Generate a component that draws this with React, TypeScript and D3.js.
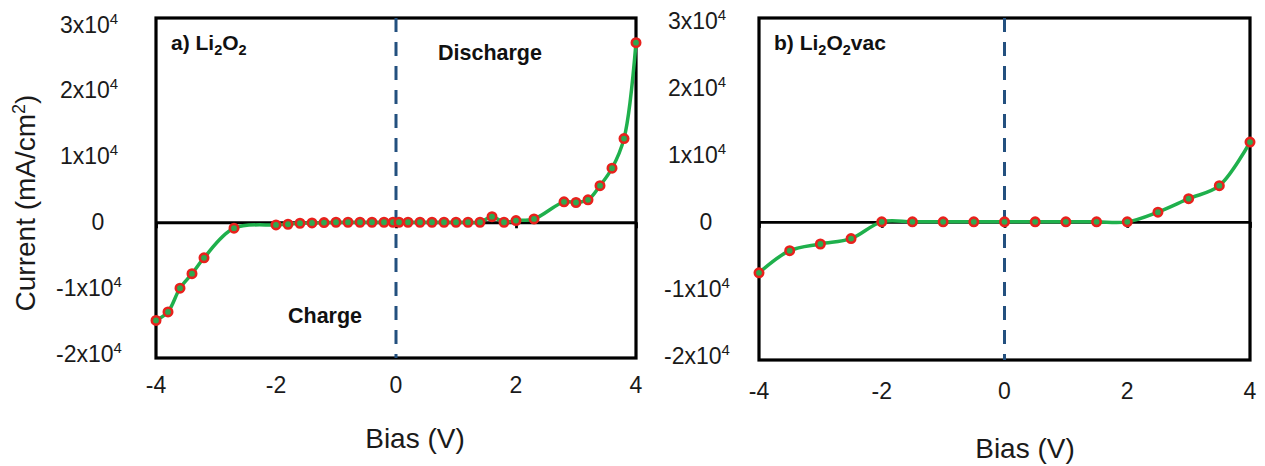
import React, { useEffect, useRef } from "react";
import * as d3 from "d3";

// panel a) Li2O2, bias (V) vs current (mA/cm2)
const biasA = [
  -4, -3.8, -3.6, -3.4, -3.2, -2.7, -2, -1.8, -1.6, -1.4, -1.2, -1, -0.8, -0.6, -0.4, -0.2,
  -0.05, 0.05, 0.2, 0.4, 0.6, 0.8, 1, 1.2, 1.4, 1.6, 1.8, 2, 2.3, 2.8, 3, 3.2, 3.4, 3.6, 3.8, 4,
];
const currentA = [
  -14900, -13600, -10000, -7800, -5400, -900, -400, -300, -150, -100, -50, 0, 0, 0, 0, 0,
  0, 0, 0, 0, 0, 0, 0, 0, 0, 850, 0, 250, 500, 3100, 3000, 3400, 5550, 8200, 12700, 27250,
];

// panel b) Li2O2vac
const biasB = [-4, -3.5, -3, -2.5, -2, -1.5, -1, -0.5, 0, 0.5, 1, 1.5, 2, 2.5, 3, 3.5, 4];
const currentB = [
  -7600, -4300, -3300, -2500, 0, 0, 0, 0, 0, 0, 0, 0, 0, 1450, 3450, 5400, 11900,
];

const xTicks = [-4, -2, 0, 2, 4];
const yTicks = [3, 2, 1, 0, -1, -2];

const font = "'Liberation Sans', Arial, sans-serif";

type Panel = {
  bias: number[];
  current: number[];
  left: number;
  right: number;
  top: number;
  bottom: number;
  yDomain: [number, number];
  yLabelX: number;
  xLabelBase: number;
  biasX: number;
  biasY: number;
  title: string;
  extraTitle: string;
};

const panels: Panel[] = [
  {
    bias: biasA, current: currentA,
    left: 156, right: 636, top: 18, bottom: 358,
    yDomain: [-20600, 31000], yLabelX: 89,
    xLabelBase: 393, biasX: 415, biasY: 448,
    title: "a) Li", extraTitle: "",
  },
  {
    bias: biasB, current: currentB,
    left: 759, right: 1250, top: 18, bottom: 360,
    yDomain: [-20600, 30400], yLabelX: 697,
    xLabelBase: 399, biasX: 1025, biasY: 458,
    title: "b) Li", extraTitle: "vac",
  },
];

function drawPanel(svg: d3.Selection<SVGSVGElement, unknown, null, undefined>, p: Panel) {
  const x = d3.scaleLinear().domain([-4, 4]).range([p.left, p.right]);
  const y = d3.scaleLinear().domain(p.yDomain).range([p.bottom, p.top]);
  const g = svg.append("g");

  // y tick labels like 3x10^4
  yTicks.forEach((t) => {
    const txt = g
      .append("text")
      .attr("x", p.yLabelX + (t === 0 ? 9 : 0))
      .attr("y", y(t * 1e4) + 8)
      .attr("text-anchor", "middle")
      .attr("font-size", 23)
      .attr("fill", "#1a1a1a");
    if (t === 0) {
      txt.text("0");
    } else {
      txt.append("tspan").text(`${t}x10`);
      txt.append("tspan").attr("font-size", 15).attr("dy", -9).text("4");
    }
  });

  // x tick labels at the bottom
  xTicks.forEach((t) => {
    g.append("text")
      .attr("x", x(t))
      .attr("y", p.xLabelBase)
      .attr("text-anchor", "middle")
      .attr("font-size", 23)
      .attr("fill", "#1a1a1a")
      .text(t);
  });

  g.append("text")
    .attr("x", p.biasX)
    .attr("y", p.biasY)
    .attr("text-anchor", "middle")
    .attr("font-size", 28)
    .attr("fill", "#1a1a1a")
    .text("Bias (V)");

  // frame
  g.append("rect")
    .attr("x", p.left)
    .attr("y", p.top)
    .attr("width", p.right - p.left)
    .attr("height", p.bottom - p.top)
    .attr("fill", "none")
    .attr("stroke", "#000")
    .attr("stroke-width", 3.2);

  // axis crossing at zero current
  const axis = g
    .append("g")
    .attr("transform", `translate(0,${y(0)})`)
    .call(d3.axisBottom(x).tickValues(xTicks).tickSize(6).tickSizeOuter(0).tickFormat(() => ""));
  axis.selectAll("path,line").attr("stroke", "#000").attr("stroke-width", 2.8);

  // dashed line at 0 V
  g.append("line")
    .attr("x1", x(0))
    .attr("x2", x(0))
    .attr("y1", p.top)
    .attr("y2", p.bottom)
    .attr("stroke", "#23507f")
    .attr("stroke-width", 3)
    .attr("stroke-dasharray", "14,10");

  const pts = p.bias.map((b, i) => [b, p.current[i]] as [number, number]);
  const line = d3
    .line<[number, number]>()
    .x((d) => x(d[0]))
    .y((d) => y(d[1]))
    .curve(d3.curveCatmullRom.alpha(0.5));

  g.append("path")
    .datum(pts)
    .attr("fill", "none")
    .attr("stroke", "#1fb04c")
    .attr("stroke-width", 3.5)
    .attr("d", line);

  g.selectAll("circle.pt")
    .data(pts)
    .join("circle")
    .attr("class", "pt")
    .attr("cx", (d) => x(d[0]))
    .attr("cy", (d) => y(d[1]))
    .attr("r", 4.2)
    .attr("fill", "#2fa84f")
    .attr("stroke", "#e8211c")
    .attr("stroke-width", 2.6);

  // panel title with subscripts
  const title = g
    .append("text")
    .attr("x", p.left + 15)
    .attr("y", 50)
    .attr("font-size", 21)
    .attr("font-weight", "bold")
    .attr("fill", "#111");
  title.append("tspan").text(p.title);
  title.append("tspan").attr("font-size", 14.5).attr("dy", 5).text("2");
  title.append("tspan").attr("dy", -5).text("O");
  title.append("tspan").attr("font-size", 14.5).attr("dy", 5).text("2");
  title.append("tspan").attr("dy", -5).text(p.extraTitle);
}

export default function App() {
  const ref = useRef<SVGSVGElement>(null);

  useEffect(() => {
    const svg = d3.select(ref.current!);
    svg.selectAll("*").remove();
    svg.attr("font-family", font);

    panels.forEach((p) => drawPanel(svg, p));

    svg
      .append("text")
      .attr("transform", "translate(35,203) rotate(-90)")
      .attr("text-anchor", "middle")
      .attr("font-size", 28)
      .attr("fill", "#1a1a1a")
      .call((t) => {
        t.append("tspan").text("Current (mA/cm");
        t.append("tspan").attr("font-size", 18).attr("dy", -10).text("2");
        t.append("tspan").attr("dy", 10).text(")");
      });

    const a = panels[0];
    svg
      .append("text")
      .attr("x", 438)
      .attr("y", 60)
      .attr("font-size", 21.5)
      .attr("font-weight", "bold")
      .attr("fill", "#111")
      .text("Discharge");
    svg
      .append("text")
      .attr("x", 288)
      .attr("y", a.bottom - 35)
      .attr("font-size", 21.5)
      .attr("font-weight", "bold")
      .attr("fill", "#111")
      .text("Charge");
  }, []);

  return (
    <svg
      ref={ref}
      width={1265}
      height={466}
      style={{ position: "absolute", left: 0, top: 0, background: "#fff" }}
    />
  );
}
